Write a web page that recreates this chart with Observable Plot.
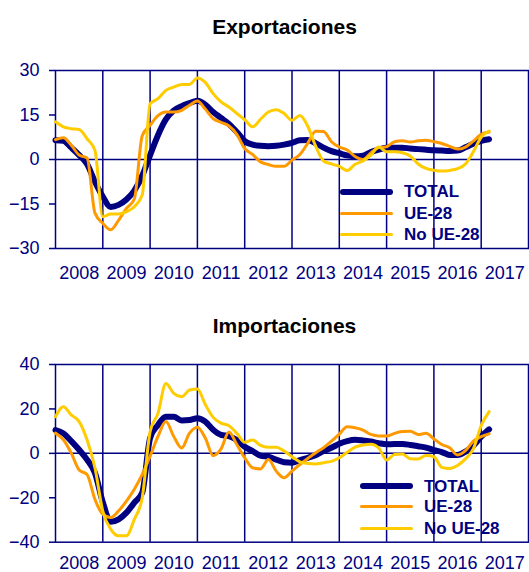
<!DOCTYPE html>
<html>
<head>
<meta charset="utf-8">
<script src="https://cdn.jsdelivr.net/npm/d3@7"></script>
<script src="https://cdn.jsdelivr.net/npm/@observablehq/plot@0.6"></script>
<style>
  html, body { margin: 0; padding: 0; background: #fff; }
  #wrap { position: relative; width: 529px; height: 572px; overflow: hidden; font-family: "Liberation Sans", Arial, sans-serif; }
  .title { position: absolute; left: 0; width: 569px; text-align: center; font-weight: bold; font-size: 21px; line-height: 21px; color: #000; }
  .chart { position: absolute; left: 0; }
  .leg { position: absolute; font-weight: bold; font-size: 17px; line-height: 17px; color: #000080; white-space: nowrap; }
  .leg .sw { position: absolute; left: 0; width: 53px; border-radius: 3px; }
  .leg .lb { position: absolute; left: 64px; }
</style>
</head>
<body>
<div id="wrap"></div>
<script>
// ---- data ----
const dates = [
  "2008-01","2008-03","2008-05","2008-07","2008-09","2008-11",
  "2009-01","2009-03","2009-05","2009-07","2009-09","2009-11",
  "2010-01","2010-03","2010-05","2010-07","2010-09","2010-11",
  "2011-01","2011-03","2011-05","2011-07","2011-09","2011-11",
  "2012-01","2012-03","2012-05","2012-07","2012-09","2012-11",
  "2013-01","2013-03","2013-05","2013-07","2013-09","2013-11",
  "2014-01","2014-03","2014-05","2014-07","2014-09","2014-11",
  "2015-01","2015-03","2015-05","2015-07","2015-09","2015-11",
  "2016-01","2016-03","2016-05","2016-07","2016-09","2016-11",
  "2017-01","2017-03"
];
const yearLabels = ["2008","2009","2010","2011","2012","2013","2014","2015","2016","2017"];
const seriesNames = ["TOTAL", "UE-28", "No UE-28"];
const seriesColors = ["#000080", "#FF9900", "#FFCC00"];

// Exportaciones
const expTotal = [6.5,6.3,4,1.5,-1.5,-7.5, -12.5,-16,-15.3,-13.5,-10.5,-5.5, 1.5,8.2,13.5,16.5,18,19,
  19.8,18.5,16,14,12,9.3, 6.2,5,4.6,4.5,4.6,5, 5.6,6.5,6.6,5.5,4,2.8, 2.1,1.4,1.1,1.3,2.5,3.3,
  4,4,4,3.7,3.5,3.3, 3.1,3,2.9,3,4.1,5.3, 6.3,6.8];
const expUE = [6.7,7.3,4.8,1.5,0.5,-18, -21.5,-23.7,-20.5,-16.5,-13.3,8, 11.5,14.8,16,16,16.6,18.3,
  19.7,17,13.8,12.5,11.3,8.5, 3.7,1.7,-0.8,-1.7,-2.3,-2.3, -0.2,1.7,5.5,9.5,9.4,6, 4.2,3.2,1.0,0,2.2,4,
  4.3,6,6.3,5.9,6.3,6.5, 6,5.4,4.4,3.5,4.2,6.2, 8.5,9.3];
const expNoUE = [12.7,11,10.4,10.1,7,3.1, -19.3,-18.4,-18.4,-17.6,-15.9,-12, 18.8,20.5,23.3,24.4,25.3,25.3,
  27.5,26,22.2,19.4,17.7,15.5, 13.4,11,13.5,16,16.8,15.5, 13.2,14.8,11.2,4.5,-0.5,-1.5, -2.3,-3.7,-1.6,-0.5,1.5,4.2,
  2.6,2.6,2.3,1.2,-1.5,-3, -3.6,-3.9,-3.7,-3.1,-1.5,2.6, 7.5,9.6];

// Importaciones
const impTotal = [10.5,9,5.5,1.6,-2.8,-8.8, -22,-30.8,-29.7,-26.7,-22.2,-17.7, 6.9,12.8,16.5,16.5,14.8,15,
  15.8,14.3,10.6,8.3,7.7,6, 3,1,-1,-1.5,-2.8,-4, -4.2,-3,-2,-0.8,1,2.5, 4.3,5.5,6.1,5.8,5.3,4.6,
  4.1,4.2,4.2,3.8,3.2,2.6, 1.5,0.6,-0.7,-0.7,0.8,3.5, 7.5,10.8];
const impUE = [9.1,6.1,0.1,-7.5,-9.5,-20.7, -27.4,-28.9,-25.9,-21.5,-16.2,-9.5, -1.3,7.6,14.3,7.6,2.4,9.1,
  11.8,6.9,-1,2,9.6,4, -2,-6.5,-7,-2.8,-8,-11, -8,-5,-2.3,0.3,2.5,5.5, 8.7,12,11.5,10.5,8.5,7.8,
  7.8,9,9.8,10,8.5,9, 6.5,4,2.5,-0.7,1.2,5.5, 7.5,8.8];
const impNoUE = [16.5,21,17.3,14.3,6.1,-6.5, -26,-34.1,-37.1,-37.1,-29.7,-20, 9.8,18,31.4,27,25.5,28.5,
  29,22,16.2,13.6,12.4,9, 5,6,3.6,2.8,2.8,1, -1.5,-3.8,-4.6,-4.8,-4.2,-3.6, -2,0.5,2.8,3.8,4.1,2.4,
  -3,-0.5,-0.3,-2.4,-2.5,-1, -1.5,-6.3,-6.8,-5.5,-2.5,2, 12.5,18.8];

const expTicks = [-30, -15, 0, 15, 30];
const impTicks = [-40, -20, 0, 20, 40];

// ---- helpers ----
const tOf = s => { const [y, m] = s.split("-").map(Number); return y + (m - 1) / 12; };
const times = dates.map(tOf);
const yearStarts = yearLabels.map(Number);
const yearMids = yearStarts.map(y => y + 0.5);
const bounds = yearStarts.slice(1);

function makeTable(arrays) {
  const rows = [];
  arrays.forEach((arr, i) => arr.forEach((v, k) => rows.push({t: times[k], v, s: seriesNames[i]})));
  return rows;
}

const navy = "#000080";
function chart({arrays, ticks, height, marginBottom, xPad}) {
  const rows = makeTable(arrays);
  const widths = [6, 3, 3];
  return Plot.plot({
    width: 529,
    height,
    marginLeft: 55,
    marginRight: 1,
    marginTop: 20,
    marginBottom,
    style: {fontFamily: "'Liberation Sans', Arial, sans-serif", fontSize: "18px", color: navy, background: "#fff", overflow: "visible"},
    x: {domain: [2008, 2018], label: null},
    y: {domain: [ticks[0], ticks[ticks.length - 1]], label: null},
    marks: [
      Plot.ruleX(bounds, {stroke: navy, strokeWidth: 1.5}),
      Plot.ruleY([0], {stroke: navy, strokeWidth: 1.5}),
      Plot.frame({stroke: navy, strokeWidth: 1.5}),
      Plot.axisY({ticks, tickSize: 6, tickPadding: 10, label: null, stroke: navy, strokeWidth: 1.5, fill: navy}),
      Plot.axisX({ticks: yearMids, tickSize: 0, tickPadding: xPad, label: null, tickFormat: d => String(Math.floor(d)), fill: navy}),
      ...seriesNames.map((name, i) => Plot.line(rows.filter(r => r.s === name), {
        x: "t", y: "v", stroke: seriesColors[i], strokeWidth: widths[i],
        curve: "monotone-x", strokeLinecap: "round", strokeLinejoin: "round"
      }))
    ]
  });
}

const wrap = document.getElementById("wrap");
function addTitle(text, centerY) {
  const d = document.createElement("div");
  d.className = "title";
  d.textContent = text;
  d.style.top = (centerY - 10.5) + "px";
  wrap.appendChild(d);
}
function addChart(svg, top) {
  svg.classList.add("chart");
  svg.style.top = top + "px";
  wrap.appendChild(svg);
}
function addLegend(left, rowYs) {
  seriesNames.forEach((name, i) => {
    const d = document.createElement("div");
    d.className = "leg";
    d.style.left = left + "px";
    d.style.top = (rowYs[i] - 8.5) + "px";
    const sw = document.createElement("span");
    sw.className = "sw";
    const w = i === 0 ? 6 : 3;
    sw.style.height = w + "px";
    sw.style.top = (8.5 - w / 2) + "px";
    sw.style.background = seriesColors[i];
    const lb = document.createElement("span");
    lb.className = "lb";
    lb.textContent = name;
    d.appendChild(sw); d.appendChild(lb);
    wrap.appendChild(d);
  });
}

addTitle("Exportaciones", 26);
addChart(chart({arrays: [expTotal, expUE, expNoUE], ticks: expTicks, height: 235, marginBottom: 37, xPad: 18}), 50);
addLegend(340, [191.7, 213.3, 234]);

addTitle("Importaciones", 325);
addChart(chart({arrays: [impTotal, impUE, impNoUE], ticks: impTicks, height: 228, marginBottom: 30.3, xPad: 14}), 344);
addLegend(360, [486, 506.7, 528]);
</script>
</body>
</html>
